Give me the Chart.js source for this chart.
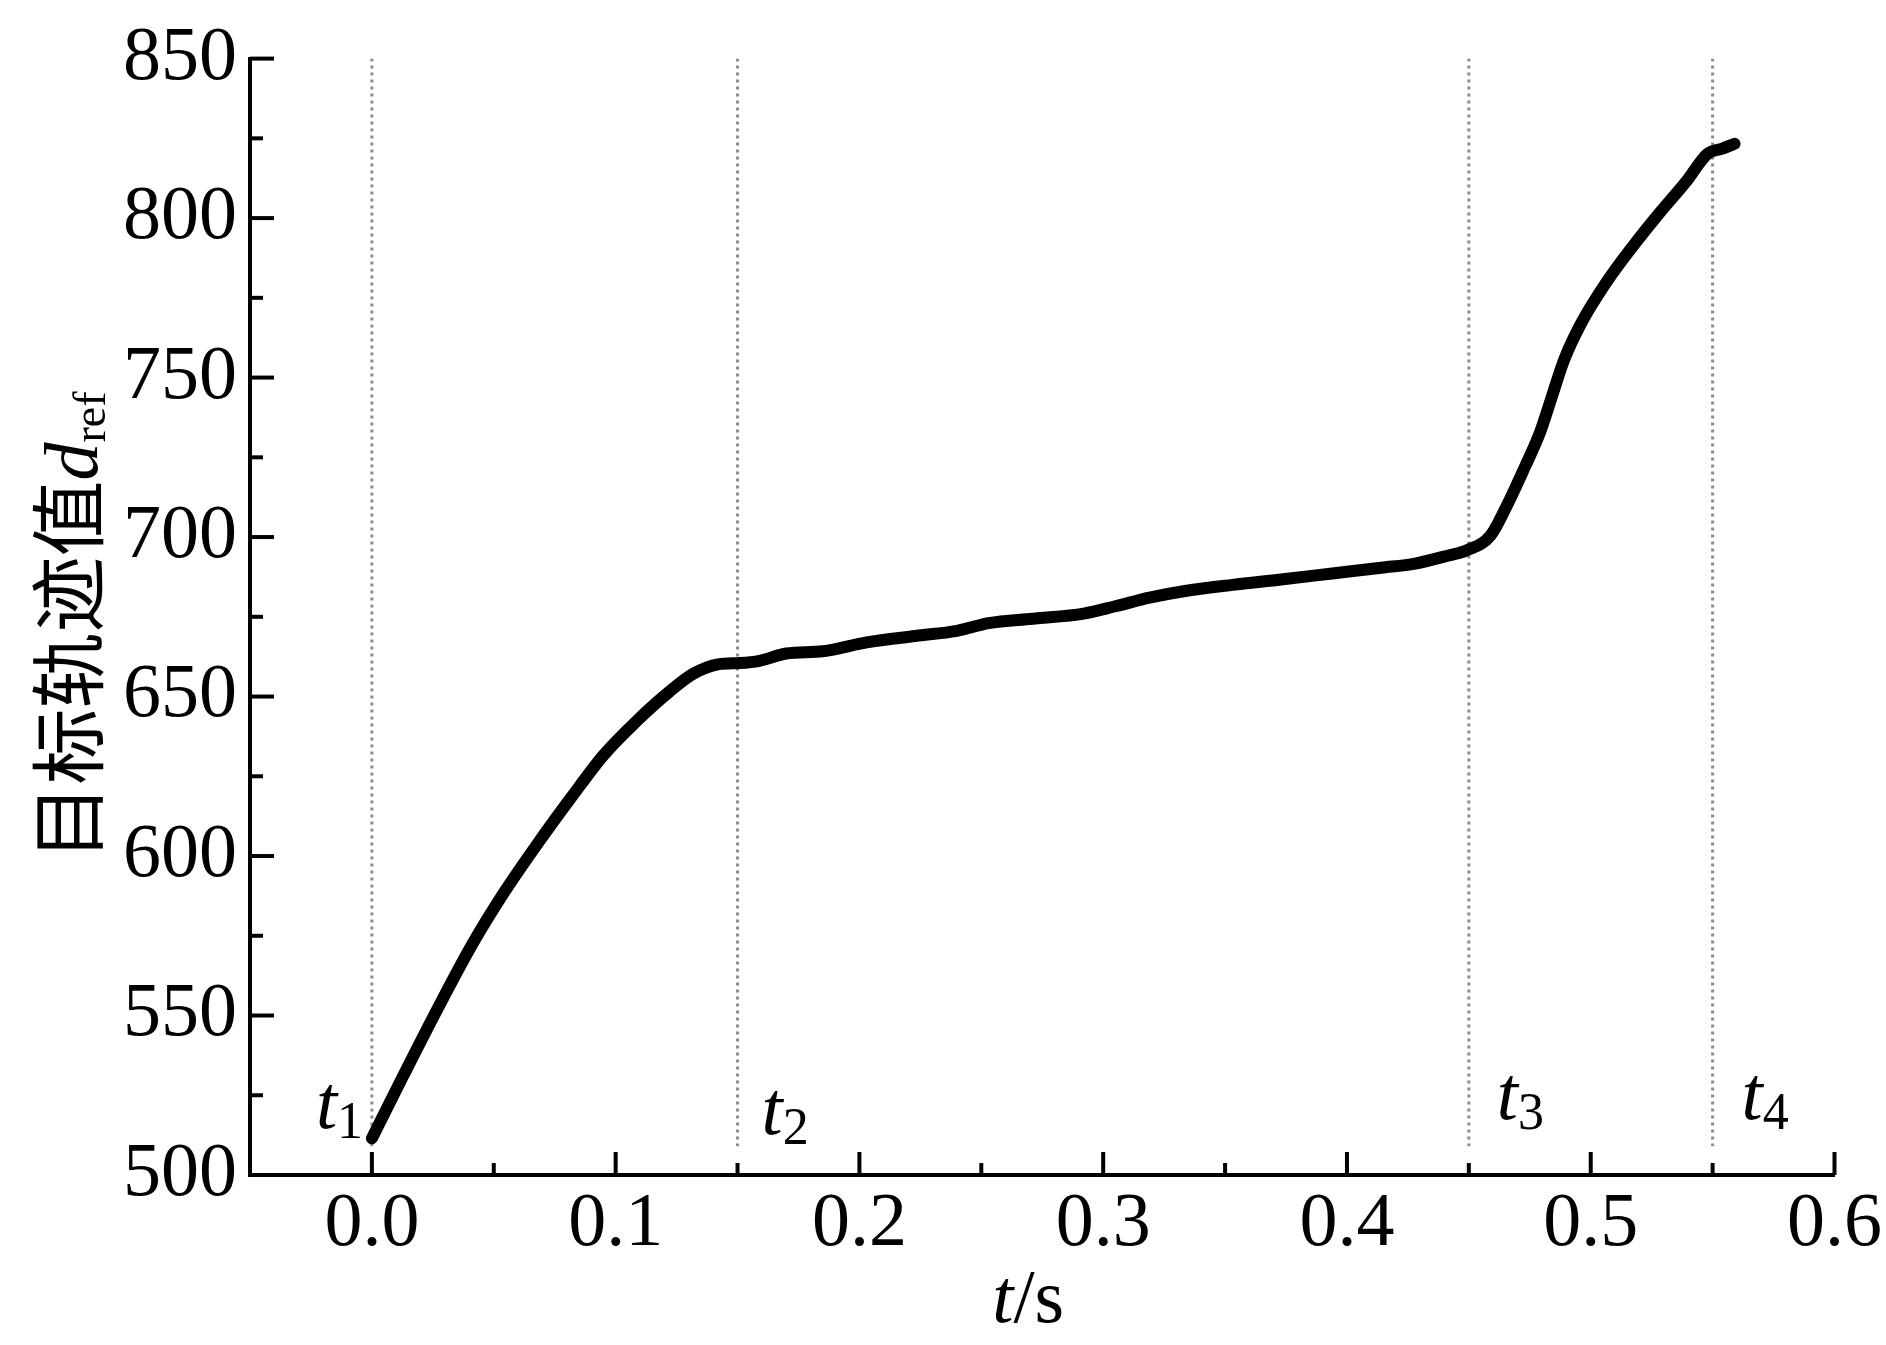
<!DOCTYPE html>
<html>
<head>
<meta charset="utf-8">
<title>目标轨迹值</title>
<script src="https://cdn.jsdelivr.net/npm/chart.js@4.4.1/dist/chart.umd.min.js"></script>
<style>
  html, body { margin: 0; padding: 0; background: #ffffff; }
  #wrap { width: 1886px; height: 1345px; position: relative; }
</style>
</head>
<body>
<div id="wrap"><canvas id="trajChart" width="1886" height="1345"></canvas></div>
<script>
// values
const timeS = [0, 0.013, 0.027, 0.041, 0.054, 0.068, 0.082, 0.095, 0.109, 0.122,
    0.132, 0.142, 0.151, 0.159, 0.170, 0.185, 0.203, 0.223, 0.240, 0.253,
    0.271, 0.292, 0.305, 0.319, 0.333, 0.353, 0.373, 0.394, 0.414, 0.428,
    0.442, 0.449, 0.459, 0.466, 0.473, 0.479, 0.484, 0.489, 0.496, 0.506,
    0.517, 0.528, 0.539, 0.548, 0.554, 0.559];
const dRef = [511.5, 531.3, 552.2, 572.1, 588.3, 603.9, 618.6, 631.6, 642.6, 651.5,
    657.2, 660.1, 660.5, 661.2, 663.5, 664.2, 667, 669, 670.6, 673,
    674.4, 676, 678.3, 681, 683, 685, 686.7, 688.6, 690.4, 691.7,
    694.3, 695.8, 700.6, 710.5, 722, 732.4, 743.9, 755.4, 766.9, 779.4,
    790.9, 801.4, 811.3, 820.2, 821.8, 823.3];

// phase boundaries t1..t4 (dotted lines)
const markerTimes = [0, 0.15, 0.45, 0.55];
const markerNames = ["1", "2", "3", "4"];
const markerTop = 850;
const markerBottom = 509;

// axes
const xTicks = [0, 0.1, 0.2, 0.3, 0.4, 0.5, 0.6];
const xMinorTicks = [0.05, 0.15, 0.25, 0.35, 0.45, 0.55];
const yTicks = [500, 550, 600, 650, 700, 750, 800, 850];
const yMinorTicks = [525, 575, 625, 675, 725, 775, 825];

const SERIF = "'Liberation Serif', 'Times New Roman', serif";
const CJK = "'Noto Sans CJK SC', sans-serif";

// draw a run of text pieces (for subscripts / mixed fonts), left to right
function drawRuns(ctx, x, y, runs, align) {
    let total = 0;
    runs.forEach(r => { ctx.font = r.font; total += ctx.measureText(r.text).width; });
    let cx = align === "center" ? x - total / 2 : x;
    runs.forEach(r => {
        ctx.font = r.font;
        ctx.fillText(r.text, cx, y + (r.dy || 0));
        cx += ctx.measureText(r.text).width;
    });
}

const decorPlugin = {
    id: "decor",
    afterDraw(chart) {
        const ctx = chart.ctx;
        const xs = chart.scales.x, ys = chart.scales.y;
        const left = chart.chartArea.left, bottom = chart.chartArea.bottom;

        // --- inward tick marks ---
        ctx.save();
        ctx.strokeStyle = "#000";
        ctx.lineWidth = 4;
        ctx.lineCap = "butt";
        const tick = (x1, y1, x2, y2) => { ctx.beginPath(); ctx.moveTo(x1, y1); ctx.lineTo(x2, y2); ctx.stroke(); };
        yTicks.forEach(v => { const p = ys.getPixelForValue(v); tick(left, p, left + 24, p); });
        yMinorTicks.forEach(v => { const p = ys.getPixelForValue(v); tick(left, p, left + 13, p); });
        xTicks.forEach(v => { const p = xs.getPixelForValue(v); tick(p, bottom, p, bottom - 23); });
        xMinorTicks.forEach(v => { const p = xs.getPixelForValue(v); tick(p, bottom, p, bottom - 12); });
        ctx.restore();

        // --- t1..t4 labels ---
        const labelPos = [
            { dx: -56, y: 1128 },
            { dx: 24, y: 1134 },
            { dx: 28, y: 1119 },
            { dx: 29, y: 1119 }
        ];
        ctx.save();
        ctx.fillStyle = "#000";
        ctx.textBaseline = "alphabetic";
        markerTimes.forEach((m, i) => {
            const px = xs.getPixelForValue(m) + labelPos[i].dx;
            drawRuns(ctx, px, labelPos[i].y, [
                { text: "t", font: "italic 76px " + SERIF },
                { text: markerNames[i], font: "52px " + SERIF, dy: 10 }
            ], "left");
        });

        // --- x axis title ---
        drawRuns(ctx, (left + chart.chartArea.right) / 2 - 14, 1322, [
            { text: "t", font: "italic 76px " + SERIF },
            { text: "/s", font: "76px " + SERIF }
        ], "center");

        // --- y axis title (rotated) ---
        ctx.translate(97, 626);
        ctx.rotate(-Math.PI / 2);
        drawRuns(ctx, 0, 0, [
            { text: "目标轨迹值", font: "76px " + CJK },
            { text: "d", font: "italic 76px " + SERIF },
            { text: "ref", font: "46px " + SERIF, dy: 8 }
        ], "center");
        ctx.restore();
    }
};

const datasets = [{
    data: timeS.map((t, i) => ({ x: t, y: dRef[i] })),
    showLine: true,
    borderColor: "#000",
    borderWidth: 12,
    borderCapStyle: "round",
    borderJoinStyle: "round",
    cubicInterpolationMode: "monotone",
    pointRadius: 0,
    order: 0
}];
markerTimes.forEach(m => {
    datasets.push({
        data: [{ x: m, y: markerTop }, { x: m, y: markerBottom }],
        showLine: true,
        borderColor: "#8c8c8c",
        borderWidth: 3,
        borderDash: [3, 4],
        pointRadius: 0,
        order: 1
    });
});

new Chart(document.getElementById("trajChart"), {
    type: "scatter",
    data: { datasets: datasets },
    options: {
        responsive: false,
        animation: false,
        devicePixelRatio: 1,
        layout: { padding: { top: 58, right: 50, left: 0, bottom: 0 } },
        plugins: { legend: { display: false }, tooltip: { enabled: false } },
        scales: {
            x: {
                type: "linear",
                min: -0.05,
                max: 0.6,
                afterFit: s => { s.height = 170; },
                afterBuildTicks: s => { s.ticks = xTicks.map(v => ({ value: v })); },
                grid: { display: false, drawTicks: false },
                border: { display: true, color: "#000", width: 4 },
                ticks: {
                    color: "#000",
                    padding: 4,
                    maxRotation: 0,
                    font: { family: SERIF, size: 76 },
                    callback: v => Number(v).toFixed(1)
                }
            },
            y: {
                type: "linear",
                min: 500,
                max: 850,
                afterFit: s => { s.width = 250; },
                afterBuildTicks: s => { s.ticks = yTicks.map(v => ({ value: v })); },
                grid: { display: false, drawTicks: false },
                border: { display: true, color: "#000", width: 4 },
                ticks: {
                    color: "#000",
                    padding: 13,
                    font: { family: SERIF, size: 76 },
                    callback: v => String(v)
                }
            }
        }
    },
    plugins: [decorPlugin]
});
</script>
</body>
</html>
